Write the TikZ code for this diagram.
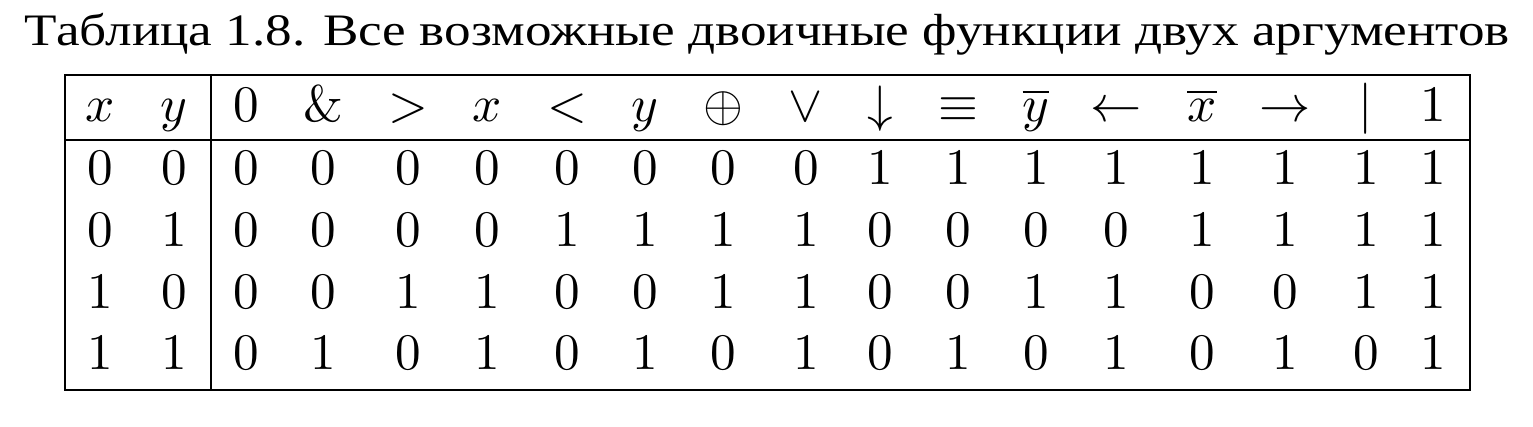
\documentclass[tikz,border=0pt]{standalone}
\usepackage[no-math]{fontspec}
\newfontfamily\titlecyrfont{Liberation Serif}
\usepackage{graphicx}
\newcommand{\bigcell}[1]{\scalebox{5.12}{#1}}
\begin{document}
\begin{tikzpicture}[x=1pt,y=-1pt,
  cell/.style={anchor=base,inner sep=0pt,font=\fontsize{10}{12}\selectfont},
  rule/.style={line width=2.8pt}]
\useasboundingbox (0,0) rectangle (1533,426);
\node[anchor=base,inner sep=0pt] (title) at (767.5,45)
  {\resizebox{1485pt}{\height}{\titlecyrfont\fontsize{45}{50}\selectfont Таблица 1.8. Все возможные двоичные функции двух аргументов}};
% frame and rules
\draw[rule] (65,75) rectangle (1470,390);
\draw[rule] (65,140) -- (1470,140);
\draw[rule] (211,75) -- (211,390);
% columns: x / header / row00 / row01 / row10 / row11
\foreach \cx/\hd/\a/\b/\c/\d [count=\k] in {
  100/$x$/0/0/1/1,
  174/$y$/0/1/0/1,
  246/$0$/0/0/0/0,
  323/\&/0/0/0/1,
  408/$>$/0/0/1/0,
  487/$x$/0/0/1/1,
  567/$<$/0/1/0/0,
  645/$y$/0/1/0/1,
  723/$\oplus$/0/1/1/0,
  806/$\vee$/0/1/1/1,
  880/$\downarrow$/1/0/0/0,
  958/$\equiv$/1/0/0/1,
  1036/$\overline{y}$/1/0/1/0,
  1116/$\leftarrow$/1/0/1/1,
  1202/$\overline{x}$/1/1/0/0,
  1285/$\rightarrow$/1/1/0/1,
  1366/$|$/1/1/1/0,
  1433/$1$/1/1/1/1}{
  \node[cell] (h\k) at (\cx,121) {\bigcell{\hd}};
  \node[cell] (ra\k) at (\cx,184) {\bigcell{$\a$}};
  \node[cell] (rb\k) at (\cx,246) {\bigcell{$\b$}};
  \node[cell] (rc\k) at (\cx,308) {\bigcell{$\c$}};
  \node[cell] (rd\k) at (\cx,369) {\bigcell{$\d$}};
}
\end{tikzpicture}
\end{document}
